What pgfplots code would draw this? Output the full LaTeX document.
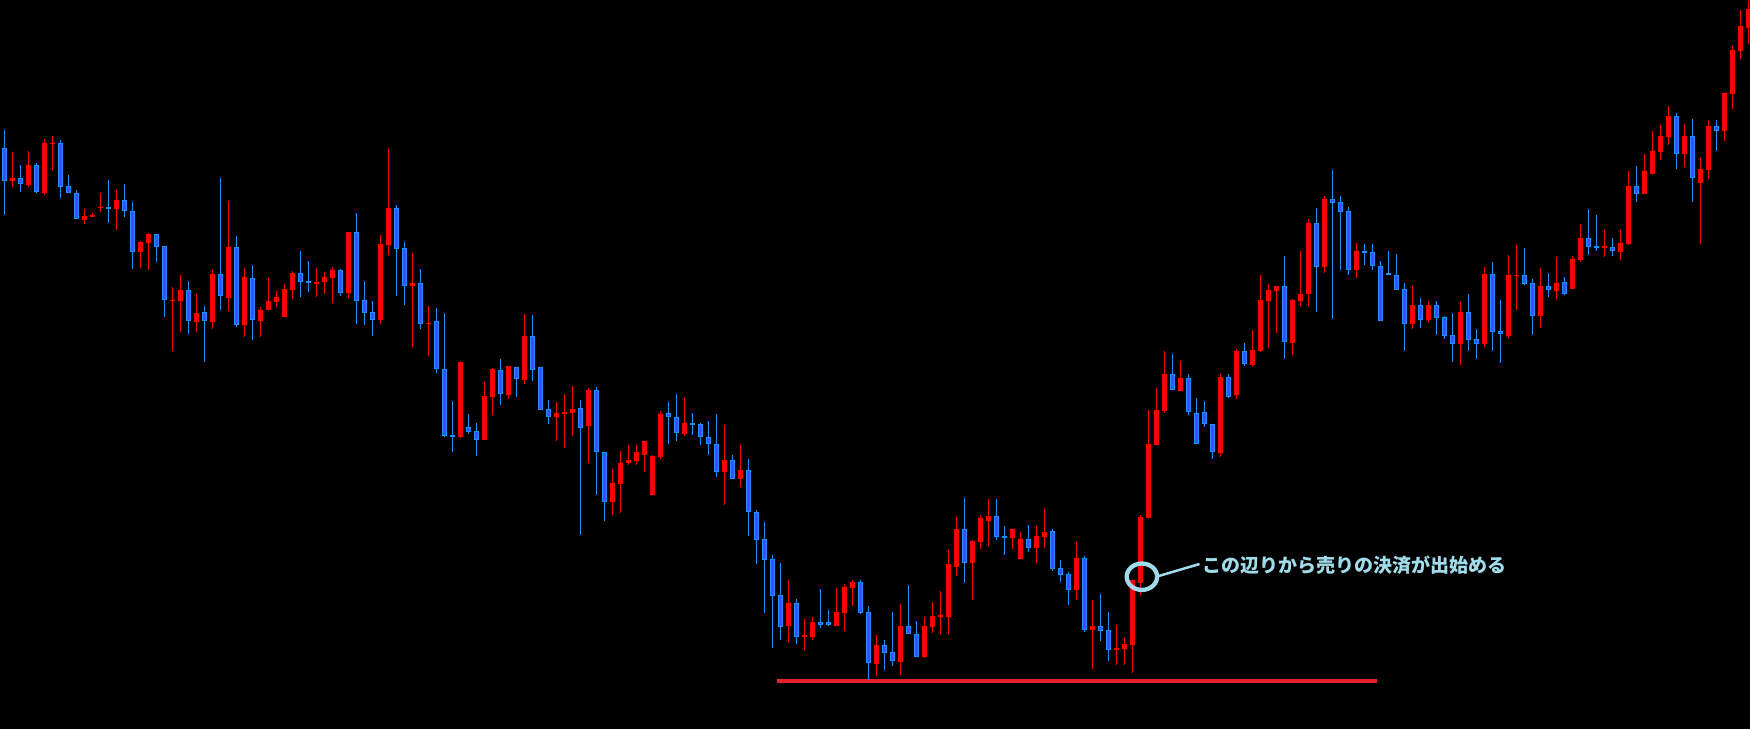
\documentclass[border=0pt]{standalone}
\usepackage{pgfplots}
\pgfplotsset{compat=1.18}
\usepackage{pgfplotstable}
\usepackage{fontspec}
\newfontfamily\cjk{Noto Sans CJK JP}
\definecolor{upred}{RGB}{255,0,0}
\definecolor{dnedge}{RGB}{30,144,255}
\definecolor{dnfill}{RGB}{60,80,255}
\definecolor{supp}{RGB}{232,32,40}
\definecolor{annot}{RGB}{160,220,235}

% pixel-row values (top = 0), x = candle index
\pgfplotstableread{
x o h l c
1 180.7 152 186.7 178
3 185 151 186.7 165
5 192.7 139 195 143.3
6 143.3 136 170 143.3
10 219.7 209 223.7 216.3
11 216.7 213.3 217.3 215
12 207.3 193 211.7 207.3
14 208.7 190 229.7 200
17 251.7 241 267.7 242
18 242.7 232.7 270 234
21 300.3 286.7 350.7 300.3
22 300.7 275 331.7 290
24 321.7 294 331.7 313.3
26 321.7 270 328.7 274
28 297.7 201 310.7 247.3
30 324.7 267.7 336.7 277
32 320.7 306.7 336.7 310.3
33 309.7 277.7 310 301.3
34 301.7 291 306.7 297
35 316.7 284 316.7 289
36 289.7 271 299 273.3
39 283.7 268 296.7 282.3
40 281.7 272 293.7 277
41 277.7 267 302.7 270
43 292.7 232 297.7 232
47 319.7 235 323.7 244
48 245 149 254.7 208
51 285.7 253 346.7 283
53 323.3 306 355.7 323.3
57 436.7 362 437.7 362
60 439.7 382 439.7 396
61 396.7 368 415 369
63 395 366 398.7 366
65 380 314 383.7 336
69 416.7 402 440.7 413
70 413.7 393.7 447.7 412
71 412.7 386 435.7 409
73 425.7 388 462.7 390
76 501.7 469 515 483.3
77 483.7 451 513.3 463.3
78 463.3 445 465 460
79 460.7 445 465 452
80 454.7 440.7 471.7 441
81 495 455 495 456
82 457 411 459.3 414
85 433.7 398 435.7 423.3
90 471.7 425 505 460
92 478.7 445 486.7 470
98 625.7 580 642 603
100 636.3 619 650 636.3
101 636.7 617 640 622
104 625.7 588 625.7 612
105 613 584 630.7 587
106 587.7 580 605.7 582
109 663.7 635 675.7 645
112 661.7 604 675 626
115 656.7 617 657.7 626
116 627 602 633 616
117 616.3 591 634 616.3
118 617 550 634 564
119 567 517 576 529
121 563 540 600 541
122 542 515 549 518
123 521 499 546 516
126 537.7 529 549 529
127 559 532 559 539
129 547.7 526 563 536
130 537 509 547.7 532
134 590 542 600 558
136 629.7 600 669 625.7
139 650 625 665 647.7
140 649 638 665 644
141 645 580 672.7 580
142 583.3 515 595 517
143 517.7 410 517.7 444
144 445 388 445 410
145 410.7 351 413.3 374
147 390.7 361 391.3 378
152 452.7 374 456.7 377
154 394.7 349 398.7 351
156 364.7 330 366.7 350
157 350.7 275 351.7 300
158 300.7 284 347.7 290
159 290.7 286 332.7 286
161 342.7 299 354.7 300
162 300.7 251 305.7 294
163 293.7 219 305.7 223
165 267.3 196 273.3 199
169 269.7 243 277.7 251
176 323.7 286 328.7 305.3
178 319.7 301 321.7 305.3
182 343.7 302 365 312
185 343.7 267 346.7 274
188 335.7 255 337.7 275
189 275.3 245 309.7 275.3
192 315.7 268 327.7 286
194 290.7 257 298.7 283
196 288.7 256 288.7 259
197 259.7 224 261.7 238
200 247.7 230 256.7 246
202 251.7 230 260 243
203 243.7 171 244.7 186
205 193.7 154 193.7 171
206 173.7 131 173.7 151
207 151.7 125 159.7 136
208 136.7 106 145 116
210 153.7 124 166.7 136
212 182.7 158 243.7 169
213 169.7 120 178.7 126
215 130.7 93 140.7 93
216 93.7 46 108.7 50
217 50.7 10 58.7 26
218 27.7 1 43.7 9
}\updata

\pgfplotstableread{
x o h l c
0 148.3 130 215 180.7
2 178.3 165 191.7 184.3
4 165.3 163.3 192.7 192.3
7 143.3 140 197.7 186.7
8 186.3 175 193.3 193.3
9 193.3 190 219.3 219.3
13 207.3 180 222.7 208.7
15 200.3 184 216.7 211.3
16 211.3 202 268.7 251.7
19 234.3 234 261.7 247.3
20 246.3 246 316.7 300.3
23 290.3 281 334.3 321.3
25 312.3 306 361.7 321.3
27 274.3 178 310 296.3
29 247.3 236 326.7 324.7
31 278.3 265 340 320.3
37 273.3 251 296.7 281.7
38 281.3 261 291.7 282.7
42 270 269 295.7 292.7
44 232.3 213 323.7 300.7
45 300.3 281 324.7 312.7
46 312 301 335.7 319.7
49 208 205 295.7 248.7
50 248 242 304.7 285.7
52 283.3 269 328.7 323.7
54 321.3 308 372.7 369.3
55 369.3 313.3 436.7 435.7
56 435 401 451.7 436.7
58 427.3 414 434.3 431.7
59 431.3 423 455.7 439.7
62 370.3 359 405 393.7
64 367.3 366.7 396.7 379.3
66 336.3 315 380.7 369.7
67 367.3 367 409.7 409.7
68 409.3 400 423.7 416.7
72 408 400 535 427.7
74 390.3 387.3 495 452.3
75 452.3 452.3 520.7 501.7
83 413.3 402 444 417.3
84 417.3 394 440.7 433.3
86 423 413 435 424.3
87 424.3 423.3 444.7 437.3
88 437.3 421 454.7 444.3
89 444 414 476.7 472.3
91 460.3 455 478.7 478.7
93 470.3 459 536 512.3
94 512.3 510 564 539.7
95 539.3 522 612.7 559.7
96 559.3 555.3 648 595.7
97 595.3 563 640 626.7
99 603.3 599 644 636.7
102 622.3 589 628 624.7
103 622.3 610 626 624.7
107 582.3 580 614 612.7
108 612.3 606 680 663.3
110 645 640 670 652.7
111 652.3 612 666 660.7
113 626 585 633.7 633.7
114 634.3 621 656.7 656.7
120 529 498 583 562.7
124 516 499 540 536.7
125 536.3 526 555 537.7
128 539 525 552 547.7
131 531 529 570.7 568.7
132 568 560 582 574.7
133 574 572 605 589.7
135 558 556 632 629.7
137 625.7 594 641 630.7
138 630 612 661 650
146 374.3 354 390 390
148 378.3 374 415.3 412.3
149 413.3 398 444.3 444.3
150 412.3 401 426.7 424.3
151 424.3 424 458.7 452.3
153 377.3 374 397.7 396.7
155 351.3 343 365.7 364.3
160 286.3 256 358.7 342.3
164 223.3 208 311.7 267.3
166 199 170 318.7 202.7
167 202 196 269.7 211.7
168 211.3 207 274.7 269.7
170 251 244 264.7 252.7
171 252.3 244 269.7 266.3
172 266.3 261 320.7 320.7
173 273.3 251 275.3 275.3
174 275.3 254 289.7 289.7
175 289.3 283 350.7 323.7
177 305.3 298 327.7 319.7
179 305.3 301 334.7 317.7
180 317 316 338.7 335.7
181 335.3 313 362 343.7
183 312.3 294 350.7 339.7
184 339.3 329 358.7 343.7
186 274 262 350.7 331.7
187 331 300 362.7 333.7
190 275.3 248 284.7 283.7
191 283.3 279 334.7 315.7
193 286.3 273 296.7 290.3
195 282.3 277 294.7 294.3
198 238 209 254.7 246.7
199 246 215 250.7 247.7
201 247 238 256 250.7
204 186 166 201.7 193.7
209 116 113 168.7 153.7
211 136 119 201.7 177.7
214 126 120 150.7 130.7
}\dndata

\pgfplotstableread{
x y
96.6 681
171.6 681
}\support

\begin{document}
\begin{tikzpicture}
\fill[black] (0,0) rectangle (1750pt,729pt);
\begin{axis}[at={(0pt,0pt)}, anchor=south west, scale only axis,
  width=1750pt, height=729pt,
  xmin=-0.5375, xmax=218.2125, ymin=0, ymax=729, y dir=reverse,
  hide axis, clip=true]

% support line
\addplot[supp, line width=4.7pt, mark=none] table[x=x,y=y] {\support};

% wicks
\addplot[draw=none, mark=none, forget plot,
  error bars/.cd, y dir=both, y explicit, error mark=none,
  error bar style={draw=upred, line width=1.3pt}]
  table[x=x, y expr={(\thisrow{h}+\thisrow{l})/2},
        y error expr={abs(\thisrow{l}-\thisrow{h})/2}] {\updata};
\addplot[draw=none, mark=none, forget plot,
  error bars/.cd, y dir=both, y explicit, error mark=none,
  error bar style={draw=dnedge, line width=1.3pt}]
  table[x=x, y expr={(\thisrow{h}+\thisrow{l})/2},
        y error expr={abs(\thisrow{l}-\thisrow{h})/2}] {\dndata};

% bodies
\addplot[draw=none, mark=none, forget plot,
  error bars/.cd, y dir=both, y explicit, error mark=none,
  error bar style={draw=upred, line width=4.7pt}]
  table[x=x, y expr={(\thisrow{o}+\thisrow{c})/2},
        y error expr={max(abs(\thisrow{o}-\thisrow{c})/2,0.8)}] {\updata};
\addplot[draw=none, mark=none, forget plot,
  error bars/.cd, y dir=both, y explicit, error mark=none,
  error bar style={draw=dnedge, line width=4.7pt}]
  table[x=x, y expr={(\thisrow{o}+\thisrow{c})/2},
        y error expr={max(abs(\thisrow{o}-\thisrow{c})/2,0.8)}] {\dndata};
\addplot[draw=none, mark=none, forget plot,
  error bars/.cd, y dir=both, y explicit, error mark=none,
  error bar style={draw=dnfill, line width=2.7pt}]
  table[x=x, y expr={(\thisrow{o}+\thisrow{c})/2},
        y error expr={max(abs(\thisrow{o}-\thisrow{c})/2-1,0)}] {\dndata};

% annotation
\draw[annot, line width=4.3pt] (axis cs:142.2,576.7) ellipse [x radius=15.2pt, y radius=13.2pt];
\draw[annot, line width=2.5pt] (axis cs:144.3,576) -- (axis cs:149.4,564);
\node[anchor=west, inner sep=0pt, text=annot, font=\cjk\bfseries\fontsize{19pt}{22pt}\selectfont]
  at (axis cs:149.8,565) {この辺りから売りの決済が出始める};
\end{axis}
\end{tikzpicture}
\end{document}
